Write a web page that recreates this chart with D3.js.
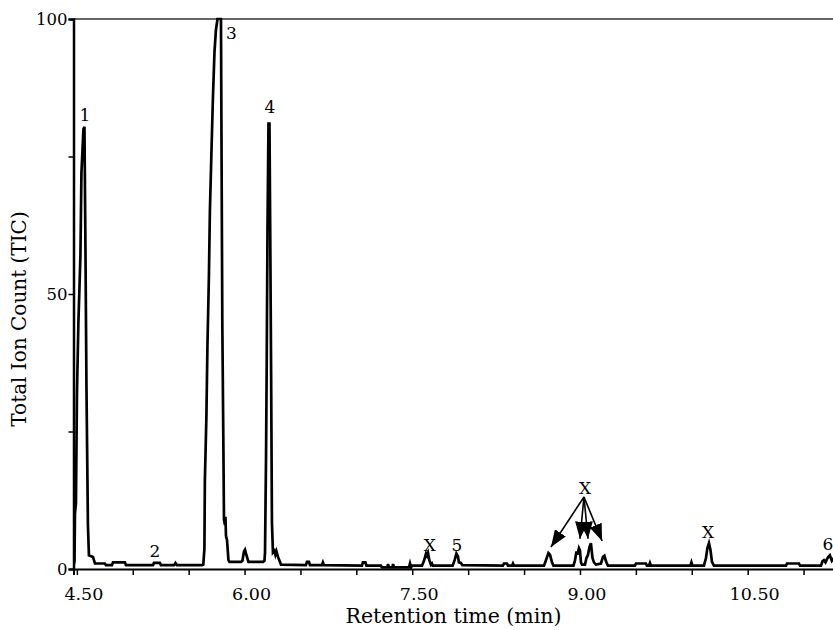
<!DOCTYPE html>
<html>
<head>
<meta charset="utf-8">
<script src="https://cdn.jsdelivr.net/npm/d3@7"></script>
<style>
  body { margin: 0; background: #fff; }
  svg { display: block; }
  text { font-family: "DejaVu Serif", serif; fill: #000; }
</style>
</head>
<body>
<svg id="chart" width="833" height="630"></svg>
<script>
// retention time (min) and total ion count
var times = [
    4.470, 4.479, 4.483, 4.492, 4.501, 4.514, 4.532, 4.541, 4.550, 4.559, 4.568, 4.577, 4.586, 4.599, 4.608,
    4.644, 4.653, 4.662, 4.751, 4.760, 4.814, 4.823, 4.930, 4.939, 5.181, 5.190, 5.243, 5.252, 5.369, 5.382, 5.395,
    5.619, 5.631, 5.641, 5.645, 5.659, 5.668, 5.681, 5.690, 5.704, 5.717, 5.731, 5.744, 5.758, 5.789,
    5.801, 5.810, 5.816, 5.825, 5.829, 5.834, 5.843, 5.856, 5.865, 5.968, 5.981, 5.995, 6.004, 6.017, 6.035,
    6.165, 6.178, 6.183, 6.192, 6.198, 6.205, 6.214, 6.223, 6.230, 6.238, 6.245, 6.254, 6.267, 6.276, 6.285, 6.299, 6.326,
    6.549, 6.558, 6.576, 6.585, 6.692, 6.701, 6.710,
    7.050, 7.059, 7.081, 7.090, 7.220, 7.229, 7.278, 7.283, 7.292, 7.323, 7.328, 7.337, 7.471, 7.480, 7.489, 7.499,
    7.587, 7.605, 7.623, 7.632, 7.641, 7.654, 7.667, 7.676, 7.684, 7.861, 7.879, 7.895, 7.909, 7.917, 7.935, 7.948,
    8.311, 8.320, 8.347, 8.356, 8.392, 8.401, 8.410,
    8.678, 8.696, 8.718, 8.732, 8.750, 8.763, 8.942, 8.955, 8.969, 8.977, 8.991, 9.000, 9.009, 9.018,
    9.045, 9.058, 9.071, 9.085, 9.098, 9.112, 9.125, 9.143, 9.188, 9.206, 9.219, 9.233, 9.250,
    9.492, 9.501, 9.590, 9.599, 9.617, 9.626, 9.635, 9.988, 9.997, 10.006,
    10.109, 10.127, 10.140, 10.154, 10.167, 10.181, 10.198,
    10.843, 10.852, 10.959, 10.968, 11.156, 11.169, 11.182, 11.196, 11.209, 11.222, 11.235, 11.253, 11.271, 11.300
];
var tic = [
    0.5, 1.5, 10, 12, 32, 45, 57, 72, 76, 80, 80.4, 58, 33, 8, 2.5,
    2.2, 1.6, 1.0, 1.0, 0.7, 0.7, 1.2, 1.2, 0.7, 0.7, 1.1, 1.1, 0.7, 0.7, 1.1, 0.7,
    0.7, 0.8, 3.7, 16, 28, 40.6, 53, 65, 76, 85.6, 94, 98, 100, 100,
    45, 24, 9, 8, 9.5, 6, 5.3, 1.6, 1.3, 1.3, 1.5, 3.2, 3.5, 2.5, 1.3,
    1.3, 1.5, 3, 20, 36.6, 61.4, 81, 81, 60, 34, 8.4, 3, 3.3, 2.6, 3.2, 2.2, 0.8,
    0.7, 1.3, 1.3, 0.7, 0.7, 1.2, 0.7,
    0.6, 1.2, 1.2, 0.6, 0.6, 0.3, 0.3, 0.9, 0.3, 0.3, 0.9, 0.3, 0.3, 1.0, 0.3, 0.6,
    0.6, 1.5, 2.8, 2.4, 2.9, 1.5, 0.8, 1.0, 0.6, 0.6, 1.6, 2.8, 2.3, 1.2, 1.1, 0.7,
    0.6, 1.0, 1.0, 0.6, 0.6, 1.0, 0.6,
    0.6, 1.6, 2.9, 2.6, 1.2, 0.6, 0.6, 1.5, 3.2, 2.6, 3.8, 3.4, 1.2, 0.8,
    0.8, 2.0, 2.5, 4.0, 4.7, 2.0, 1.2, 0.8, 1.0, 2.2, 2.4, 1.4, 0.6,
    0.6, 1.0, 1.0, 0.6, 0.6, 1.1, 0.6, 0.6, 1.2, 0.6,
    0.6, 2.0, 3.8, 4.7, 3.5, 1.3, 0.6,
    0.6, 1.0, 1.0, 0.6, 0.6, 1.4, 1.6, 1.2, 1.8, 2.2, 2.5, 1.5, 2.0, 1.0
];

var xTicks = [4.5, 5.0, 5.5, 6.0, 6.5, 7.0, 7.5, 8.0, 8.5, 9.0, 9.5, 10.0, 10.5, 11.0];
var xTickLabels = [4.5, 6.0, 7.5, 9.0, 10.5];
var yTicks = [0, 25, 50, 75, 100];
var yTickLabels = [0, 50, 100];

// peak labels: text, time, tic at text baseline
var peakNames = ["1", "2", "3", "4", "X", "5", "X", "X", "6"];
var peakTimes = [4.573, 5.199, 5.882, 6.227, 7.658, 7.900, 9.045, 10.145, 11.218];
var peakLevels = [81.5, 2.2, 96.4, 82.9, 3.3, 3.3, 13.6, 5.6, 3.5];

// arrows from the grouped X label
var arrowFrom = [9.036, 13.1];
var arrowToTimes = [8.741, 9.000, 9.072, 9.198];
var arrowToLevels = [4.0, 5.5, 5.5, 5.1];

var margin = { top: 19, left: 73.5 };
var plotWidth = 6.83 * 111.8;
var plotHeight = 550;

var svg = d3.select("#chart");

var defs = svg.append("defs");
defs.append("clipPath").attr("id", "plotClip")
    .append("rect")
    .attr("x", 0).attr("y", -2)
    .attr("width", plotWidth).attr("height", plotHeight + 4);
defs.append("marker")
    .attr("id", "head")
    .attr("markerUnits", "userSpaceOnUse")
    .attr("viewBox", "0 0 17 13")
    .attr("refX", 17).attr("refY", 6.5)
    .attr("markerWidth", 17).attr("markerHeight", 13)
    .attr("orient", "auto")
    .append("path")
    .attr("d", "M0,0 L17,6.5 L0,13 Z")
    .attr("fill", "#000");

var graph = svg.append("g")
    .attr("transform", "translate(" + margin.left + "," + margin.top + ")");

var x = d3.scaleLinear()
    .domain([4.47, 11.30])
    .range([0, plotWidth]);

var y = d3.scaleLinear()
    .domain([0, 100])
    .range([plotHeight, 0]);

// top frame line
graph.append("line")
    .attr("x1", 0).attr("x2", plotWidth)
    .attr("y1", 0).attr("y2", 0)
    .attr("stroke", "#333")
    .attr("stroke-width", 1.5);

// x axis
var xAxisGroup = graph.append("g")
    .attr("transform", "translate(0," + plotHeight + ")")
    .call(d3.axisBottom(x).tickValues(xTicks).tickSize(6).tickFormat(""));
xAxisGroup.select(".domain").attr("stroke-width", 2);
xAxisGroup.selectAll(".tick line").attr("stroke-width", 1.5);

graph.append("g")
    .selectAll("text")
    .data(xTickLabels)
    .enter()
    .append("text")
    .attr("x", function(d) { return x(d) + 7; })
    .attr("y", plotHeight + 31)
    .attr("text-anchor", "middle")
    .attr("font-size", "17.5px")
    .text(function(d) { return d3.format(".2f")(d); });

// y axis
var yAxisGroup = graph.append("g")
    .call(d3.axisLeft(y).tickValues(yTicks).tickSize(5).tickFormat(""));
yAxisGroup.select(".domain").attr("stroke-width", 2.5);
yAxisGroup.selectAll(".tick line").attr("stroke-width", 1.5);

graph.append("g")
    .selectAll("text")
    .data(yTickLabels)
    .enter()
    .append("text")
    .attr("x", -6)
    .attr("y", function(d) { return y(d); })
    .attr("dy", "0.35em")
    .attr("text-anchor", "end")
    .attr("font-size", "16.5px")
    .text(function(d) { return d; });

// axis titles
graph.append("text")
    .attr("x", 380)
    .attr("y", plotHeight + 54)
    .attr("text-anchor", "middle")
    .attr("font-size", "20.5px")
    .text("Retention time (min)");

graph.append("text")
    .attr("transform", "rotate(-90)")
    .attr("x", -300)
    .attr("y", -48)
    .attr("text-anchor", "middle")
    .attr("font-size", "20px")
    .text("Total Ion Count (TIC)");

// chromatogram trace
var line = d3.line()
    .x(function(d, i) { return x(times[i]); })
    .y(function(d) { return y(d); });

graph.append("path")
    .datum(tic)
    .attr("clip-path", "url(#plotClip)")
    .attr("d", line)
    .attr("fill", "none")
    .attr("stroke", "#000")
    .attr("stroke-width", 2.7)
    .attr("stroke-linejoin", "miter");

// arrows
graph.append("g")
    .selectAll("line")
    .data(arrowToTimes)
    .enter()
    .append("line")
    .attr("x1", x(arrowFrom[0]))
    .attr("y1", y(arrowFrom[1]))
    .attr("x2", function(d) { return x(d); })
    .attr("y2", function(d, i) { return y(arrowToLevels[i]); })
    .attr("stroke", "#000")
    .attr("stroke-width", 1.6)
    .attr("marker-end", "url(#head)");

// peak labels
graph.append("g")
    .selectAll("text")
    .data(peakNames)
    .enter()
    .append("text")
    .attr("x", function(d, i) { return x(peakTimes[i]); })
    .attr("y", function(d, i) { return y(peakLevels[i]); })
    .attr("text-anchor", "middle")
    .attr("font-size", "17px")
    .text(function(d) { return d; });
</script>
</body>
</html>
